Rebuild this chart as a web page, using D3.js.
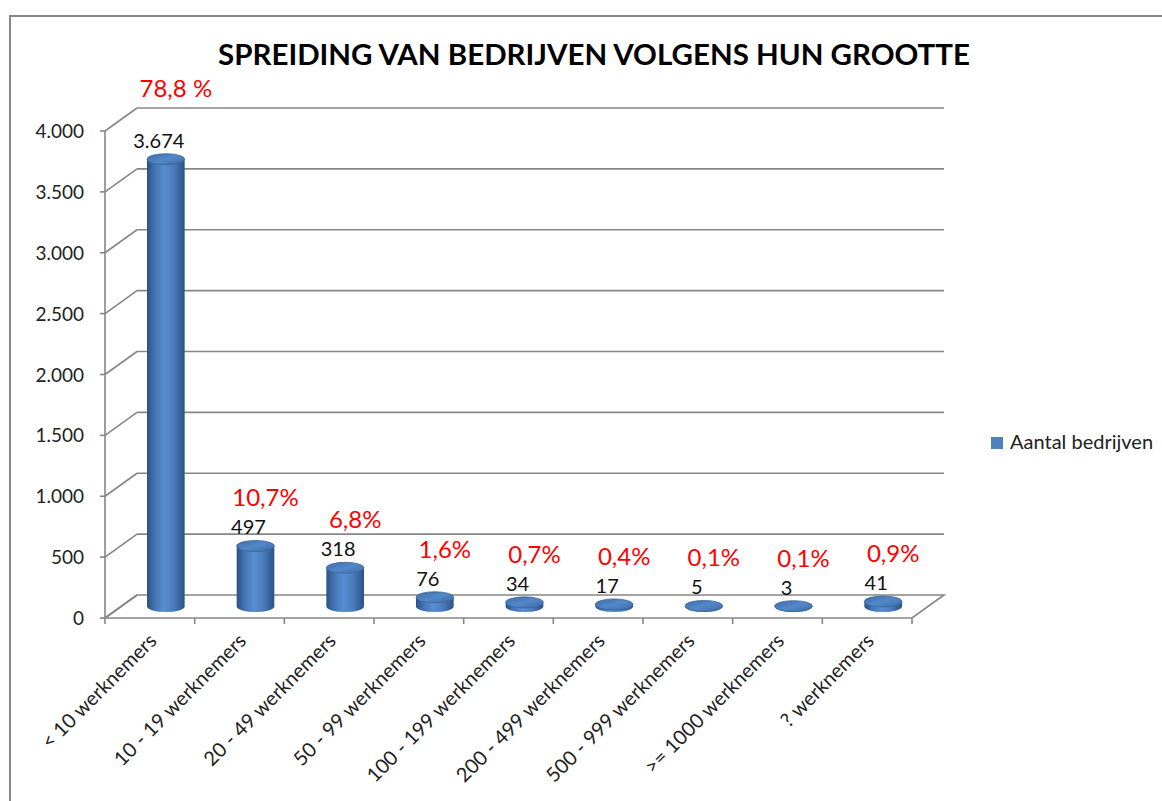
<!DOCTYPE html>
<html>
<head>
<meta charset="utf-8">
<script src="https://cdn.jsdelivr.net/npm/d3@7"></script>
<style>
  body { margin: 0; background: #fff; }
  text { font-family: Lato, "Open Sans", sans-serif; }
</style>
</head>
<body>
<svg id="chart" width="1162" height="801"></svg>
<script>
// data
let categories = ['< 10 werknemers', '10 - 19 werknemers', '20 - 49 werknemers', '50 - 99 werknemers',
                  '100 - 199 werknemers', '200 - 499 werknemers', '500 - 999 werknemers',
                  '>= 1000 werknemers', '? werknemers']
let aantal = [3674, 497, 318, 76, 34, 17, 5, 3, 41]
let percentages = ['78,8 %', '10,7%', '6,8%', '1,6%', '0,7%', '0,4%', '0,1%', '0,1%', '0,9%']
let yTicks = [0, 500, 1000, 1500, 2000, 2500, 3000, 3500, 4000]

let svg = d3.select('#chart')
let gridColor = '#868686'

// frame
svg.append('rect')
    .attr('x', 10).attr('y', 16)
    .attr('width', 1200).attr('height', 900)
    .attr('fill', 'none')
    .attr('stroke', gridColor)
    .attr('stroke-width', 2)

svg.append('text')
    .attr('x', 594).attr('y', 65)
    .attr('text-anchor', 'middle')
    .attr('font-size', 28)
    .attr('font-weight', 'bold')
    .attr('textLength', 752)
    .attr('lengthAdjust', 'spacingAndGlyphs')
    .text('SPREIDING VAN BEDRIJVEN VOLGENS HUN GROOTTE')

// front plane scales + depth offset (fake 3d)
let x = d3.scaleBand().domain(categories).range([105, 912])
let y = d3.scaleLinear().domain([0, 4000]).range([618, 131])
let depthX = 32, depthY = -23

let defs = svg.append('defs')
let bodyGrad = defs.append('linearGradient').attr('id', 'body')
    .attr('x1', '0%').attr('x2', '100%').attr('y1', '0%').attr('y2', '0%')
;[[0, '#2a5284'], [0.2, '#4373b2'], [0.45, '#5a8ed0'], [0.7, '#4b7dbe'], [1, '#2b5385']].forEach((s) => {
    bodyGrad.append('stop').attr('offset', s[0]).attr('stop-color', s[1])
})
let topGrad = defs.append('linearGradient').attr('id', 'top')
    .attr('x1', '0%').attr('x2', '100%').attr('y1', '0%').attr('y2', '100%')
;[[0, '#3d6aa6'], [0.5, '#5488c9'], [1, '#3b69a5']].forEach((s) => {
    topGrad.append('stop').attr('offset', s[0]).attr('stop-color', s[1])
})

let grid = svg.append('g')
    .attr('stroke', gridColor)
    .attr('stroke-width', 1.6)
    .attr('fill', 'none')

// back wall gridlines + side wall diagonals
yTicks.forEach((t) => {
    if (t > 0) {
        grid.append('line')
            .attr('x1', x.range()[0] + depthX).attr('x2', x.range()[1] + depthX)
            .attr('y1', y(t) + depthY).attr('y2', y(t) + depthY)
    }
    grid.append('line')
        .attr('x1', x.range()[0]).attr('y1', y(t))
        .attr('x2', x.range()[0] + depthX).attr('y2', y(t) + depthY)
    grid.append('line')
        .attr('x1', x.range()[0] - 5).attr('x2', x.range()[0])
        .attr('y1', y(t)).attr('y2', y(t))
})
// vertical axis line
grid.append('line')
    .attr('x1', x.range()[0]).attr('x2', x.range()[0])
    .attr('y1', y(0)).attr('y2', y(4000))

// floor outline
let x0 = x.range()[0], x1 = x.range()[1]
grid.append('path')
    .attr('d', 'M' + x0 + ',' + y(0) + 'L' + x1 + ',' + y(0) +
               'L' + (x1 + depthX) + ',' + (y(0) + depthY) +
               'L' + (x0 + depthX) + ',' + (y(0) + depthY) + 'Z')

// category ticks
let tickPos = categories.map((c) => x(c)).concat([x1])
tickPos.forEach((p) => {
    grid.append('line')
        .attr('x1', p).attr('x2', p)
        .attr('y1', y(0)).attr('y2', y(0) + 6)
})

// y tick labels
svg.append('g').selectAll('text')
    .data(yTicks)
    .enter()
    .append('text')
    .attr('x', 84)
    .attr('y', (t) => y(t) + 7)
    .attr('text-anchor', 'end')
    .attr('font-size', 19)
    .attr('fill', '#222')
    .text((t) => d3.format(',')(t).replace(/,/g, '.'))

// cylinders
let rx = x.bandwidth() * 0.21, ry = 5.5
let cx = (i) => x(categories[i]) + x.bandwidth() / 2 + depthX / 2
let baseY = y(0) + depthY / 2
let topY = (v) => baseY - (y(0) - y(v))

let bars = svg.append('g').selectAll('g')
    .data(aantal)
    .enter()
    .append('g')

bars.append('path')
    .attr('fill', 'url(#body)')
    .attr('d', (v, i) => {
        let l = cx(i) - rx, r = cx(i) + rx
        return 'M' + l + ',' + topY(v) + 'L' + l + ',' + baseY +
               'A' + rx + ',' + ry + ' 0 0 0 ' + r + ',' + baseY +
               'L' + r + ',' + topY(v) + 'Z'
    })
bars.append('ellipse')
    .attr('cx', (v, i) => cx(i))
    .attr('cy', (v) => topY(v))
    .attr('rx', rx).attr('ry', ry)
    .attr('fill', 'url(#top)')
    .attr('stroke', '#3a649b')
    .attr('stroke-width', 0.8)

// value labels
let labelY = (v) => topY(v) - ry - 6
bars.append('text')
    .attr('x', (v, i) => cx(i) - 7)
    .attr('y', (v) => labelY(v))
    .attr('text-anchor', 'middle')
    .attr('font-size', 20)
    .attr('fill', '#111')
    .text((v) => d3.format(',')(v).replace(/,/g, '.'))

// percentage labels (red)
let backTop = y(4000) + depthY
bars.append('text')
    .attr('x', (v, i) => cx(i) + 10)
    .attr('y', (v) => {
        let p = Math.min(labelY(v) - 28, 567)
        if (p < backTop + 20) p = backTop - 11
        return p
    })
    .attr('text-anchor', 'middle')
    .attr('font-size', 24)
    .attr('fill', '#ff0000')
    .text((v, i) => percentages[i])

// category labels, rotated
svg.append('g').selectAll('text')
    .data(categories)
    .enter()
    .append('text')
    .attr('transform', (c) => 'translate(' + (x(c) + x.bandwidth() / 2 + 8) + ',' + (y(0) + 24) + ') rotate(-45)')
    .attr('text-anchor', 'end')
    .attr('font-size', 20)
    .attr('fill', '#222')
    .text((c) => c)

// legend
svg.append('rect')
    .attr('x', 991).attr('y', 437)
    .attr('width', 12).attr('height', 12)
    .attr('fill', '#4f81bd')
svg.append('text')
    .attr('x', 1010).attr('y', 449)
    .attr('font-size', 20)
    .attr('fill', '#222')
    .text('Aantal bedrijven')
</script>
</body>
</html>
